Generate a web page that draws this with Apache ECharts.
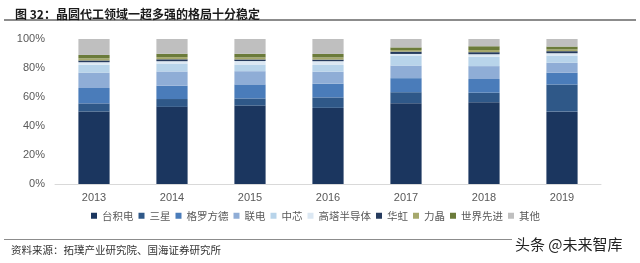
<!DOCTYPE html>
<html>
<head>
<meta charset="utf-8">
<script src="https://cdn.jsdelivr.net/npm/echarts@6/dist/echarts.min.js"></script>
<style>
html,body{margin:0;padding:0;background:#fff;}
#c{width:640px;height:263px;}
</style>
</head>
<body>
<div id="c"></div>
<script>
const years = ['2013','2014','2015','2016','2017','2018','2019'];
const seriesNames = ['台积电','三星','格罗方德','联电','中芯','高塔半导体','华虹','力晶','世界先进','其他'];
const tsmc      = [50.0, 53.2, 54.1, 52.5, 55.7, 56.4, 49.9];
const samsung   = [5.6, 5.4, 4.9, 7.2, 7.6, 6.6, 18.7];
const gf        = [10.6, 9.2, 9.7, 9.5, 9.7, 9.4, 8.2];
const umc       = [10.6, 9.8, 9.1, 8.3, 8.7, 8.9, 6.8];
const smic      = [5.5, 5.5, 4.6, 4.6, 6.9, 6.4, 5.0];
const tower     = [1.7, 1.6, 2.4, 2.6, 1.1, 1.8, 1.6];
const hhgrace   = [1.2, 1.3, 1.1, 1.1, 1.6, 1.4, 1.4];
const powerchip = [1.5, 1.5, 1.4, 1.5, 1.1, 1.5, 1.2];
const vis       = [2.3, 2.3, 2.5, 2.4, 1.8, 2.6, 2.0];
const others    = [11.0, 10.2, 10.2, 10.3, 5.8, 5.0, 5.2];
const yTicks = [0, 20, 40, 60, 80, 100];

const colors = ['#1b365f','#2f5888','#4a7cba','#8fadd6','#b8d4ea','#dce8f3','#263b5e','#a6a86c','#6b7b3a','#bfbfbf'];
const values = [tsmc, samsung, gf, umc, smic, tower, hhgrace, powerchip, vis, others];

const chart = echarts.init(document.getElementById('c'));
chart.setOption({
  animation: false,
  title: {
    text: '图 32：晶圆代工领域一超多强的格局十分稳定',
    left: 10, top: 3,
    textStyle: {fontSize: 12, fontWeight: 'bold', color: '#1a1a1a', fontFamily: 'Noto Sans CJK SC'}
  },
  grid: {left: 55, right: 39, top: 39, bottom: 79},
  legend: {
    bottom: 37, left: 86,
    itemWidth: 6, itemHeight: 6, itemGap: 5,
    icon: 'rect',
    textStyle: {fontSize: 10.5, color: '#595959', fontFamily: 'Noto Sans CJK SC'},
    data: seriesNames
  },
  xAxis: {
    type: 'category', data: years,
    axisTick: {show: false},
    axisLine: {lineStyle: {color: '#d9d9d9'}},
    axisLabel: {fontSize: 11, color: '#595959', fontFamily: 'Liberation Sans', margin: 8}
  },
  yAxis: {
    type: 'value', min: yTicks[0], max: yTicks[yTicks.length-1], interval: 20,
    splitLine: {show: false},
    axisLine: {show: false}, axisTick: {show: false},
    axisLabel: {fontSize: 11, color: '#595959', fontFamily: 'Liberation Sans', margin: 10, formatter: '{value}%'}
  },
  series: seriesNames.map((n, i) => ({
    name: n, type: 'bar', stack: 'all', data: values[i],
    barWidth: '40%',
    itemStyle: {color: colors[i]}
  })),
  graphic: [
    {type: 'rect', shape: {x: 4, y: 19, width: 632, height: 2}, style: {fill: '#8c8c8c'}, silent: true},
    {type: 'rect', shape: {x: 4, y: 239, width: 508, height: 1}, style: {fill: '#8c8c8c'}, silent: true},
    {type: 'text', left: 11, top: 245, style: {text: '资料来源：拓璞产业研究院、国海证券研究所', fontSize: 10.5, fill: '#333', fontFamily: 'Noto Sans CJK SC'}},
    {type: 'text', left: 515, top: 237, style: {text: '头条 @未来智库', fontSize: 15, fill: '#222', fontFamily: 'Noto Sans CJK SC'}}
  ]
});
</script>
</body>
</html>
